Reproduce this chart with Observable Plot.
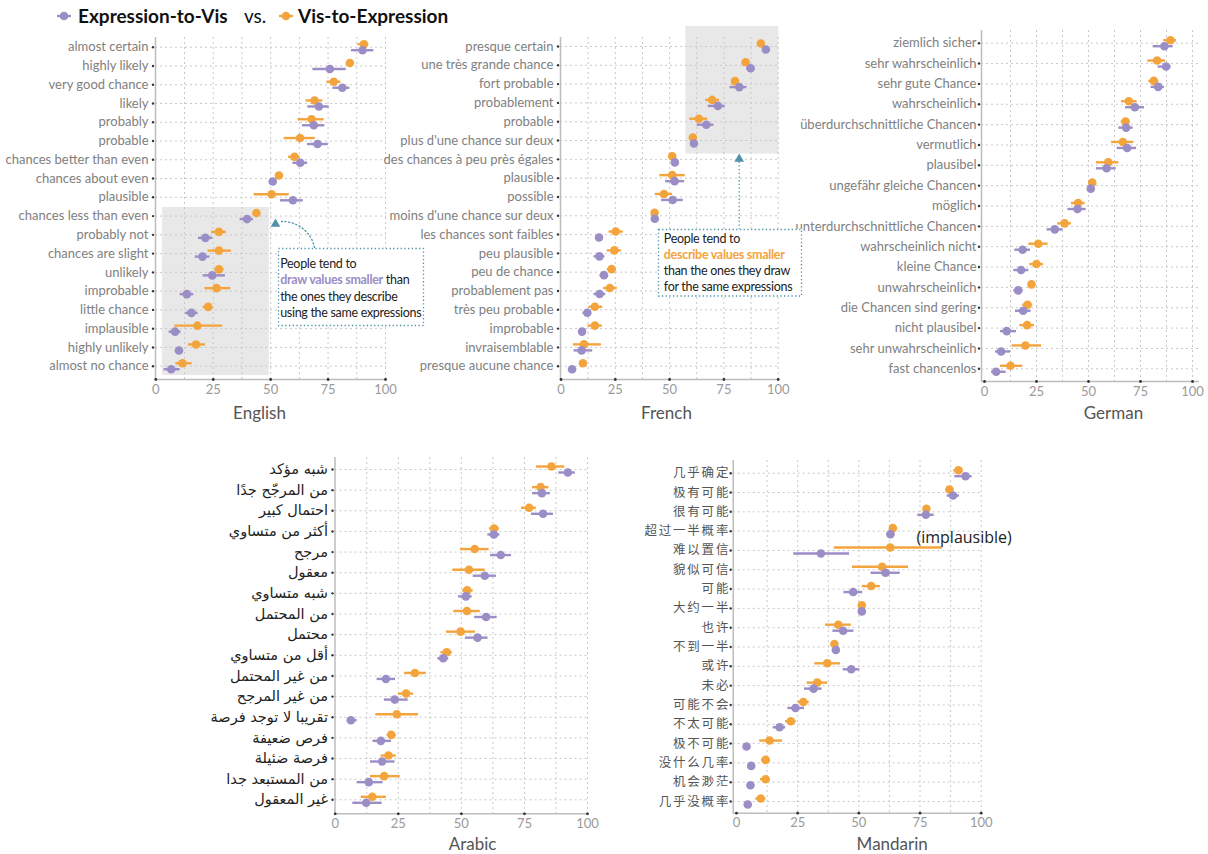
<!DOCTYPE html>
<html><head><meta charset="utf-8">
<script src="https://cdn.jsdelivr.net/npm/d3@7"></script>
<script src="https://cdn.jsdelivr.net/npm/@observablehq/plot@0.6"></script>
<style>
body{margin:0;background:#fff;font-family:Lato,"Noto Sans",sans-serif;}
#root{position:relative;width:1208px;height:854px;overflow:hidden;background:#fff;}
.panel{position:absolute;}
.panel svg{overflow:visible;}
.leg{position:absolute;font-size:19px;line-height:20px;color:#111;white-space:nowrap;}
.note{position:absolute;background:#fff;font-size:12.5px;letter-spacing:-0.3px;color:#222;white-space:nowrap;box-sizing:border-box;}
.note svg{position:absolute;left:0;top:0;overflow:visible;}
.note .tx{position:relative;}
</style></head><body><div id="root"></div>
<script>
// ---------------- data ----------------
const legendLabels = ["Expression-to-Vis", "Vis-to-Expression"];
const xTicks = [0, 25, 50, 75, 100];
const gridX = [12.5, 25, 37.5, 50, 62.5, 75, 87.5, 100];

const enTerms = ["almost certain","highly likely","very good chance","likely","probably","probable","chances better than even","chances about even","plausible","chances less than even","probably not","chances are slight","unlikely","improbable","little chance","implausible","highly unlikely","almost no chance"];
const enE2V   = [90.0,75.8,81.2,71.0,68.8,70.4,62.9,50.9,59.7,39.7,21.6,20.3,24.6,13.5,15.5,8.4,10.1,6.7];
const enE2VLo = [85.2,68.4,77.1,66.2,63.8,66.0,59.7,50.0,54.3,36.7,18.6,17.2,20.6,10.6,13.0,5.8,8.5,3.6];
const enE2VHi = [94.9,82.9,84.5,75.5,73.6,75.1,66.1,51.8,64.2,42.5,24.8,23.6,30.3,16.5,18.4,11.0,11.8,10.6];
const enV2E   = [90.6,84.5,77.5,69.1,67.8,62.8,60.4,53.6,50.4,43.8,27.5,27.5,27.5,26.4,22.8,18.1,17.5,11.6];
const enV2ELo = [88.0,83.5,74.5,65.4,61.9,55.9,57.8,52.8,42.8,42.5,24.3,22.8,25.7,21.4,20.6,8.3,14.2,8.7];
const enV2EHi = [92.7,85.5,80.6,72.7,73.3,69.4,62.8,54.4,58.1,45.4,30.7,32.9,29.7,32.6,24.9,29.1,21.6,15.8];

const frTerms = ["presque certain","une très grande chance","fort probable","probablement","probable","plus d'une chance sur deux","des chances à peu près égales","plausible","possible","moins d'une chance sur deux","les chances sont faibles","peu plausible","peu de chance","probablement pas","très peu probable","improbable","invraisemblable","presque aucune chance"];
const frE2V   = [94.3,87.3,82.1,72.2,66.9,61.2,52.4,52.3,51.4,43.2,17.5,17.7,19.8,17.8,12.1,9.7,9.5,5.1];
const frE2VLo = [93.5,85.5,77.8,67.8,62.7,60.4,51.6,48.2,46.3,42.4,16.7,15.2,18.0,15.2,10.1,8.1,6.0,4.3];
const frE2VHi = [95.1,89.1,85.6,75.6,70.4,62.0,53.2,56.9,56.3,44.0,18.3,20.2,21.8,20.6,14.1,11.5,14.6,5.9];
const frV2E   = [92.0,85.0,80.1,69.6,63.5,60.7,51.2,51.2,47.4,43.1,25.2,24.6,23.3,22.5,15.6,15.6,10.6,10.1];
const frV2ELo = [91.2,84.2,79.3,66.6,59.3,59.9,50.4,45.5,43.4,42.3,22.1,21.3,21.3,19.6,12.9,12.4,5.7,9.3];
const frV2EHi = [92.8,85.8,80.9,73.0,67.5,61.5,52.0,57.2,51.4,43.9,28.7,27.8,25.2,25.9,19.2,19.0,18.6,10.9];

const deTerms = ["ziemlich sicher","sehr wahrscheinlich","sehr gute Chance","wahrscheinlich","überdurchschnittliche Chancen","vermutlich","plausibel","ungefähr gleiche Chancen","möglich","unterdurchschnittliche Chancen","wahrscheinlich nicht","kleine Chance","unwahrscheinlich","die Chancen sind gering","nicht plausibel","sehr unwahrscheinlich","fast chancenlos"];
const deE2V   = [86.5,87.3,83.5,72.3,68.1,68.6,58.7,51.1,44.7,33.8,18.3,17.6,16.2,18.6,10.7,8.0,5.6];
const deE2VLo = [81.1,83.5,80.1,67.8,64.6,63.8,53.8,50.3,40.1,30.1,14.6,14.1,14.1,14.9,7.7,5.3,3.4];
const deE2VHi = [90.7,89.7,86.5,76.9,71.5,73.1,63.3,51.9,48.9,37.8,22.1,21.3,18.6,22.4,15.4,12.5,10.4];
const deV2E   = [89.4,83.0,81.4,69.4,67.8,66.5,59.5,51.8,45.0,38.5,25.8,25.0,22.6,20.7,20.5,19.7,12.5];
const deV2ELo = [86.2,78.5,79.0,65.9,65.7,61.1,53.8,51.0,41.8,35.2,21.3,21.8,21.8,18.4,17.0,13.3,7.7];
const deV2EHi = [92.3,87.0,83.8,73.4,69.9,71.8,64.6,52.6,48.4,41.8,30.6,28.4,23.4,23.2,24.0,27.4,18.4];

const arTerms = ["شبه مؤكد","من المرجّح جدًا","احتمال كبير","أكثر من متساوي","مرجح","معقول","شبه متساوي","من المحتمل","محتمل","أقل من متساوي","من غير المحتمل","من غير المرجح","تقريبا لا توجد فرصة","فرص ضعيفة","فرصة ضئيلة","من المستبعد جدا","غير المعقول"];
const arE2V   = [92.2,81.9,82.4,62.9,65.6,59.3,51.8,59.8,56.4,42.8,20.1,23.6,6.2,18.1,18.6,13.3,12.3];
const arE2VLo = [88.6,78.2,77.8,60.5,61.6,54.7,48.9,55.3,51.6,40.7,16.6,19.5,4.8,15.0,14.0,8.7,7.0];
const arE2VHi = [95.2,85.3,86.5,65.3,69.9,63.9,54.3,64.2,60.6,45.0,23.9,28.9,8.7,22.3,23.7,19.0,18.6];
const arV2E   = [85.7,81.4,76.9,63.0,55.3,53.0,52.3,52.2,49.7,44.2,31.6,28.1,24.4,22.2,21.1,19.4,14.7];
const arV2ELo = [79.8,78.2,73.8,61.2,49.7,46.6,50.5,47.0,44.1,41.9,27.5,25.1,16.1,20.6,18.2,14.0,10.3];
const arV2EHi = [91.0,84.7,79.7,65.0,61.0,59.5,54.7,57.5,55.6,46.4,36.1,31.1,33.0,24.2,24.2,25.8,20.3];

const zhTerms = ["几乎确定","极有可能","很有可能","超过一半概率","难以置信","貌似可信","可能","大约一半","也许","不到一半","或许","未必","可能不会","不太可能","极不可能","没什么几率","机会渺茫","几乎没概率"];
const zhE2V   = [93.6,88.5,77.4,62.9,34.5,60.9,47.7,51.2,43.6,40.6,46.9,31.5,24.1,17.6,4.1,6.0,5.7,4.6];
const zhE2VLo = [89.2,86.1,74.1,62.1,23.4,55.0,43.9,50.4,39.4,39.8,43.6,27.8,21.0,15.0,3.3,5.2,4.9,3.8];
const zhE2VHi = [96.3,91.1,80.8,63.7,46.2,66.9,51.6,52.0,48.0,41.4,50.4,35.0,27.8,20.1,4.9,6.8,6.5,5.4];
const zhV2E   = [90.7,87.0,77.6,63.9,62.8,59.5,55.0,51.2,41.6,40.0,37.1,33.0,27.3,22.2,13.5,11.9,11.9,9.9];
const zhV2ELo = [88.8,86.2,76.8,63.1,40.0,47.4,51.4,50.4,36.4,39.2,32.0,28.9,25.2,20.0,9.5,10.2,9.8,7.9];
const zhV2EHi = [92.5,88.9,78.4,64.7,84.2,70.3,58.8,52.0,46.9,40.8,42.5,37.3,29.7,24.4,18.8,13.9,13.9,12.0];

// ---------------- style ----------------
const PURPLE = "#9b8dc6", ORANGE = "#f3a43d", TEAL = "#4e93aa", SHADE = "#e8e8e8";
const AXIS = "#bdbdbd", GRID = "#c8c8c8";
const root = document.getElementById("root");

function panel(c) {
  const n = c.terms.length;
  const k = (c.x100 - c.x0) / 100;
  const step = (c.rowN - c.row0) / (n - 1);
  const [bx, by, bw, bh] = c.box;
  const px = p => (p - c.x0) / k;
  const py = p => (p - c.row0) / step;
  const xLo = px(c.axisLeft), xHi = px(c.axisRight);
  const yTop = py(c.axisTop), yBot = py(c.axisBottom);
  const rows = c.terms.map((t, i) => ({i, t,
    e: c.e2v[i], eLo: c.e2vLo[i], eHi: c.e2vHi[i],
    v: c.v2e[i], vLo: c.v2eLo[i], vHi: c.v2eHi[i]}));
  const marks = [];
  if (c.shade) marks.push(Plot.rect([c.shade], {x1: "x1", x2: "x2", y1: "y1", y2: "y2", fill: SHADE}));
  marks.push(
    Plot.ruleX(gridX, {stroke: GRID, strokeDasharray: "2,3"}),
    Plot.ruleY(d3.range(n), {stroke: GRID, strokeDasharray: "2,3"}),
    Plot.ruleX([xLo], {stroke: AXIS, strokeWidth: 1.5}),
    Plot.ruleY([yBot], {stroke: AXIS, strokeWidth: 1.5}),
    Plot.dot(xTicks, {x: d => d, y: yBot, r: 1.4, fill: "#333"}),
    Plot.dot(d3.range(n), {x: xLo, y: d => d, dx: -2.5, r: 1.2, fill: "#333"}),
    Plot.ruleY(rows, {y: "i", x1: "vLo", x2: "vHi", dy: -3, stroke: ORANGE, strokeWidth: 2.4}),
    Plot.dot(rows, {x: "v", y: "i", dy: -3, r: 4.3, fill: ORANGE}),
    Plot.ruleY(rows, {y: "i", x1: "eLo", x2: "eHi", dy: 3, stroke: PURPLE, strokeWidth: 2.4}),
    Plot.dot(rows, {x: "e", y: "i", dy: 3, r: 4.3, fill: PURPLE}),
    Plot.axisX({ticks: xTicks, tickSize: 0, tickPadding: 5, fontSize: 13, color: "#9a9a9a", label: null}),
    Plot.axisY({ticks: d3.range(n), tickFormat: i => c.terms[i], tickSize: 0, tickPadding: c.labelPad,
      fontSize: c.labelSize, color: c.labelColor, fontFamily: c.labelFont, label: null}),
    Plot.text([c.title], {text: d => d, x: px(c.titleX), y: py(c.titleY), fontSize: 17, fill: "#555"})
  );
  if (c.extra) marks.push(...c.extra(px, py));
  const svg = Plot.plot({
    width: bw, height: bh,
    marginLeft: c.axisLeft - bx, marginRight: bx + bw - c.axisRight,
    marginTop: c.axisTop - by, marginBottom: by + bh - c.axisBottom,
    x: {domain: [xLo, xHi]},
    y: {domain: [yBot, yTop]},
    style: {background: "transparent", overflow: "visible", fontFamily: "Lato, sans-serif"},
    marks
  });
  if (c.letterSpacing) d3.select(svg).selectAll('g[aria-label="y-axis tick label"] text').style("letter-spacing", c.letterSpacing);
  const div = document.createElement("div");
  div.className = "panel";
  div.style.left = bx + "px"; div.style.top = by + "px";
  div.appendChild(svg);
  root.appendChild(div);
}

const common = {labelSize: 13, labelColor: "#808080", labelFont: "Lato, sans-serif", labelPad: 7};

panel({...common, terms: enTerms, e2v: enE2V, e2vLo: enE2VLo, e2vHi: enE2VHi, v2e: enV2E, v2eLo: enV2ELo, v2eHi: enV2EHi,
  box: [0, 20, 400, 420], axisLeft: 155, axisRight: 386, axisTop: 37, axisBottom: 379,
  x0: 155.3, x100: 385, row0: 46.7, rowN: 365.7, title: "English", titleX: 259, titleY: 413,
  shade: {x1: 2.9, x2: 49.4, y1: 8.54, y2: 17.5},
  extra: (px, py) => [
    Plot.arrow([0], {x1: px(314), y1: py(247), x2: px(281), y2: py(221), bend: -40, headLength: 0,
      stroke: TEAL, strokeWidth: 1.3, strokeDasharray: "1.3,2.4"}),
    Plot.dot([0], {x: px(275), y: py(223.5), symbol: "triangle", r: 3.6, fill: TEAL})
  ]});

panel({...common, terms: frTerms, e2v: frE2V, e2vLo: frE2VLo, e2vHi: frE2VHi, v2e: frV2E, v2eLo: frV2ELo, v2eHi: frV2EHi,
  box: [370, 20, 420, 420], axisLeft: 560, axisRight: 778.5, axisTop: 37, axisBottom: 379,
  x0: 560.5, x100: 777.7, row0: 46, rowN: 365.7, title: "French", titleX: 666, titleY: 413,
  shade: {x1: 57.5, x2: 100.3, y1: -1.07, y2: 5.72},
  extra: (px, py) => [
    Plot.link([0], {x1: px(738.7), y1: py(229), x2: px(738.7), y2: py(161), stroke: TEAL, strokeWidth: 1.3, strokeDasharray: "1.3,2.4"}),
    Plot.dot([0], {x: px(738.7), y: py(158.5), symbol: "triangle", r: 3.6, fill: TEAL})
  ]});

panel({...common, labelPad: 5, terms: deTerms, e2v: deE2V, e2vLo: deE2VLo, e2vHi: deE2VHi, v2e: deV2E, v2eLo: deV2ELo, v2eHi: deV2EHi,
  box: [780, 20, 428, 420], axisLeft: 981, axisRight: 1199, axisTop: 30, axisBottom: 381,
  x0: 984, x100: 1192, row0: 42.7, rowN: 368.3, title: "German", titleX: 1113, titleY: 413});

panel({...common, labelSize: 14.5, labelColor: "#222", labelFont: "'DejaVu Sans', sans-serif", terms: arTerms,
  e2v: arE2V, e2vLo: arE2VLo, e2vHi: arE2VHi, v2e: arV2E, v2eLo: arV2ELo, v2eHi: arV2EHi,
  box: [200, 445, 400, 409], axisLeft: 334.5, axisRight: 588, axisTop: 457, axisBottom: 813.3,
  x0: 334.7, x100: 587, row0: 469, rowN: 799.3, title: "Arabic", titleX: 472, titleY: 844});

panel({...common, labelSize: 12.5, labelColor: "#555", labelFont: "'Noto Sans CJK SC', sans-serif", labelPad: 3, letterSpacing: "1.8px",
  terms: zhTerms, e2v: zhE2V, e2vLo: zhE2VLo, e2vHi: zhE2VHi, v2e: zhV2E, v2eLo: zhV2ELo, v2eHi: zhV2EHi,
  box: [620, 445, 420, 409], axisLeft: 732.7, axisRight: 982, axisTop: 460, axisBottom: 812.7,
  x0: 736, x100: 980.7, row0: 472.7, rowN: 801, title: "Mandarin", titleX: 891.7, titleY: 844,
  extra: (px, py) => [
    Plot.text(["(implausible)"], {text: d => d, x: px(916), y: py(537.3), textAnchor: "start", fontSize: 16, fill: "#222", fontFamily: "'Open Sans', sans-serif"})
  ]});

// ---------------- legend ----------------
function marker(color, left) {
  const s = d3.create("svg").attr("width", 18).attr("height", 12)
    .style("position", "absolute").style("left", left + "px").style("top", "10px");
  s.append("line").attr("x1", 1).attr("x2", 15).attr("y1", 6).attr("y2", 6).attr("stroke", color).attr("stroke-width", 2.4);
  s.append("circle").attr("cx", 8).attr("cy", 6).attr("r", 4.3).attr("fill", color);
  root.appendChild(s.node());
}
function legText(txt, left, bold) {
  const d = document.createElement("div");
  d.className = "leg"; d.textContent = txt;
  d.style.left = left + "px"; d.style.top = "6px"; d.style.fontWeight = bold ? "700" : "400";
  root.appendChild(d);
}
marker(PURPLE, 56); legText(legendLabels[0], 78, true);
legText("vs.", 244, false);
marker(ORANGE, 278); legText(legendLabels[1], 298, true);

// ---------------- annotations ----------------
function note(left, top, w, h, html, padTop, padLeft, lh) {
  const d = document.createElement("div");
  d.className = "note";
  Object.assign(d.style, {left: left + "px", top: top + "px", width: w + "px", height: h + "px",
    paddingTop: padTop + "px", paddingLeft: padLeft + "px", lineHeight: lh + "px"});
  const s = d3.create("svg").attr("width", w).attr("height", h);
  s.append("rect").attr("x", 0.5).attr("y", 0.5).attr("width", w - 1).attr("height", h - 1)
    .attr("fill", "none").attr("stroke", TEAL).attr("stroke-width", 1.3).attr("stroke-dasharray", "1.3,2.4");
  d.appendChild(s.node());
  const t = document.createElement("div"); t.className = "tx"; t.innerHTML = html;
  d.appendChild(t);
  root.appendChild(d);
}
note(277.7, 248.3, 146, 78, `People tend to<br><b style="color:${PURPLE}">draw values smaller</b> than<br>the ones they describe<br>using the same expressions`, 7.4, 2.5, 16.6);
note(658.3, 229.3, 144, 67.5, `People tend to<br><b style="color:${ORANGE}">describe values smaller</b><br>than the ones they draw<br>for the same expressions`, 1.5, 5.5, 15.9);
</script></body></html>
